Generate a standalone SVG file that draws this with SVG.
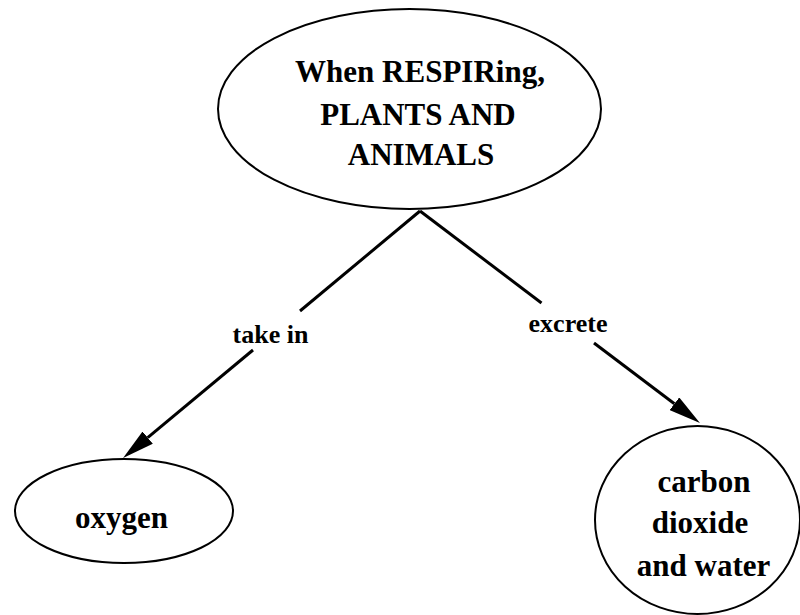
<svg xmlns="http://www.w3.org/2000/svg" width="800" height="615" viewBox="0 0 800 615">
  <style>
    .node { fill: #ffffff; stroke: #000000; stroke-width: 2; }
    .label { font-family: "Liberation Serif", "Times New Roman", serif; font-weight: bold; font-size: 31px; fill: #000000; text-anchor: middle; }
    .edge-label { font-family: "Liberation Serif", "Times New Roman", serif; font-weight: bold; font-size: 26px; fill: #000000; text-anchor: middle; }
    .edge { fill: none; stroke: #000000; stroke-width: 3; }
  </style>
  <defs>
    <marker id="arrow" viewBox="0 0 32 16" refX="0" refY="8" markerWidth="32" markerHeight="16" markerUnits="userSpaceOnUse" orient="auto">
      <path d="M0,0 L32,8 L0,16 Z" fill="#000000"/>
    </marker>
  </defs>
  <rect width="800" height="615" fill="#ffffff"/>

  <g id="connectors">
    <!-- take in: respiring -> oxygen -->
    <path class="edge" d="M420,211 L300,311"/>
    <path class="edge" d="M253,350 L147.7,437.6" marker-end="url(#arrow)"/>
    <text class="edge-label" x="270.5" y="343">take in</text>
    <!-- excrete: respiring -> carbon dioxide and water -->
    <path class="edge" d="M420,211 L541.5,303"/>
    <path class="edge" d="M594,343 L674.4,403.8" marker-end="url(#arrow)"/>
    <text class="edge-label" x="568" y="332">excrete</text>
  </g>

  <g id="node-respiring">
    <ellipse class="node" cx="409.5" cy="109" rx="191.5" ry="100"/>
    <text class="label" x="420" y="82">When RESPIRing,</text>
    <text class="label" x="418" y="125">PLANTS AND</text>
    <text class="label" x="421" y="165">ANIMALS</text>
  </g>

  <g id="node-oxygen">
    <ellipse class="node" cx="124" cy="511" rx="109" ry="52"/>
    <text class="label" x="121.5" y="528">oxygen</text>
  </g>

  <g id="node-carbon">
    <ellipse class="node" cx="697.5" cy="520" rx="102.5" ry="94"/>
    <text class="label" x="704" y="492">carbon</text>
    <text class="label" x="700" y="533">dioxide</text>
    <text class="label" x="703.5" y="576">and water</text>
  </g>
</svg>
